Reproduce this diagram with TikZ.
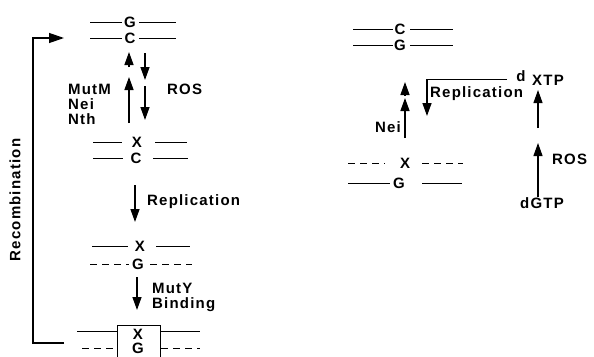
\documentclass[tikz,border=0pt]{standalone}
\usepackage{fontspec}
\setmainfont{Liberation Sans}[LetterSpace=8]
\usetikzlibrary{arrows.meta}
\tikzset{
  lbl/.style={font=\bfseries\fontsize{15}{15}\selectfont, inner sep=0pt},
  base/.style={font=\bfseries\fontsize{15}{15}\selectfont, inner sep=0pt},
  strand/.style={line width=1pt},
  dstrand/.style={line width=1pt, dash pattern=on 7pt off 5pt},
  arr/.style={line width=1.4pt, -{Triangle[width=9pt,length=13pt]}},
  thinarr/.style={line width=1.1pt, -{Triangle[width=9pt,length=13pt]}},
  plain/.style={line width=1.3pt},
}
\begin{document}
\begin{tikzpicture}[x=1pt,y=-1pt]
\useasboundingbox (0,0) rectangle (594,356);
% ---------- left column ----------
\node[base] (g1) at (130,22) {G};
\draw[strand] (90,22) -- (122,22) (139,22) -- (176,22);
\node[base] (c1) at (130,38) {C};
\draw[strand] (90,38) -- (122,38) (139,38) -- (176,38);

\coordinate (u1a) at (129,67); \coordinate (u1b) at (129,52);
\coordinate (u2a) at (129,123); \coordinate (u2b) at (129,77);
\draw[arr] (u1a) -- (u1b);
\draw[arr] (u2a) -- (u2b);
\coordinate (d1a) at (145,53); \coordinate (d1b) at (145,80);
\coordinate (d2a) at (145,86); \coordinate (d2b) at (145,120);
\draw[arr] (d1a) -- (d1b);
\draw[arr] (d2a) -- (d2b);

\node[lbl,anchor=west] (mutm) at (68,89) {MutM};
\node[lbl,anchor=west] (nei1) at (68,104) {Nei};
\node[lbl,anchor=west] (nth) at (68,119) {Nth};
\node[lbl,anchor=west] (ros1) at (167,89) {ROS};

\node[base] (x2) at (137,142) {X};
\draw[strand] (93,142) -- (122,142) (155,142) -- (187,142);
\node[base] (c2) at (136,158) {C};
\draw[strand] (93,158) -- (123,158) (153,158) -- (188,158);

\coordinate (r1a) at (135,185); \coordinate (r1b) at (135,222);
\draw[arr] (r1a) -- (r1b);
\node[lbl,anchor=west] (rep1) at (147,202) {Replication};

\node[base] (x3) at (140,246) {X};
\draw[strand] (92,246) -- (128,246) (156,246) -- (190,246);
\node[base] (g3) at (138,264) {G};
\draw[dstrand] (90,264) -- (129,264) (150,264) -- (192,264);

\coordinate (m1a) at (137,277); \coordinate (m1b) at (137,310);
\draw[arr] (m1a) -- (m1b);
\node[lbl,anchor=west] (muty) at (152,288) {MutY};
\node[lbl,anchor=west] (bind) at (152,305) {Binding};

\node[draw, line width=1pt, minimum width=43pt, minimum height=32pt, anchor=north west, inner sep=0pt] (box) at (117,325) {};
\node[base] (x4) at (138,334) {X};
\node[base] (g4) at (138,348) {G};
\draw[strand] (77,331) -- (box.west |- 0,331) (box.east |- 0,331) -- (200,331);
\draw[dstrand] (82,348) -- (box.west |- 0,348) (box.east |- 0,348) -- (200,348);

\coordinate (rb) at (64,343); \coordinate (rc1) at (33,343);
\coordinate (rc2) at (33,38); \coordinate (rt) at (64,38);
\draw[plain, -{Triangle[width=10pt,length=15pt]}] (rb) -- (rc1) -- (rc2) -- (rt);
\node[lbl, rotate=90] (recomb) at (15,200) {Recombination};

% ---------- right column ----------
\node[base] (c5) at (400,29) {C};
\draw[strand] (353,29) -- (393,29) (410,29) -- (453,29);
\node[base] (g5) at (400,45) {G};
\draw[strand] (353,45) -- (393,45) (410,45) -- (453,45);

\coordinate (v1a) at (405,95); \coordinate (v1b) at (405,82);
\coordinate (v2a) at (405,138); \coordinate (v2b) at (405,98);
\draw[arr] (v1a) -- (v1b);
\draw[arr] (v2a) -- (v2b);
\node[lbl,anchor=east] (nei2) at (401,127) {Nei};

\coordinate (ba) at (507,79); \coordinate (bc) at (427,79); \coordinate (bb) at (427,116);
\draw[line width=1pt] (ba) -- (bc);
\draw[arr] (bc) -- (bb);
\node[lbl,anchor=west] (rep2) at (430,94) {Replication};

\node[lbl] (dd) at (521,76) {d};
\node[lbl,anchor=west] (xtp) at (532,80) {XTP};

\coordinate (w1a) at (538,128); \coordinate (w1b) at (538,90);
\coordinate (w2a) at (538,197); \coordinate (w2b) at (538,143);
\draw[thinarr] (w1a) -- (w1b);
\draw[thinarr] (w2a) -- (w2b);
\node[lbl,anchor=west] (ros2) at (552,159) {ROS};
\node[lbl] (dgtp) at (542,203) {dGTP};

\node[base] (x6) at (405,163) {X};
\draw[dstrand] (348,163) -- (385,163) (422,163) -- (463,163);
\node[base] (g6) at (399,183) {G};
\draw[strand] (348,183) -- (390,183) (422,183) -- (462,183);
\end{tikzpicture}
\end{document}
